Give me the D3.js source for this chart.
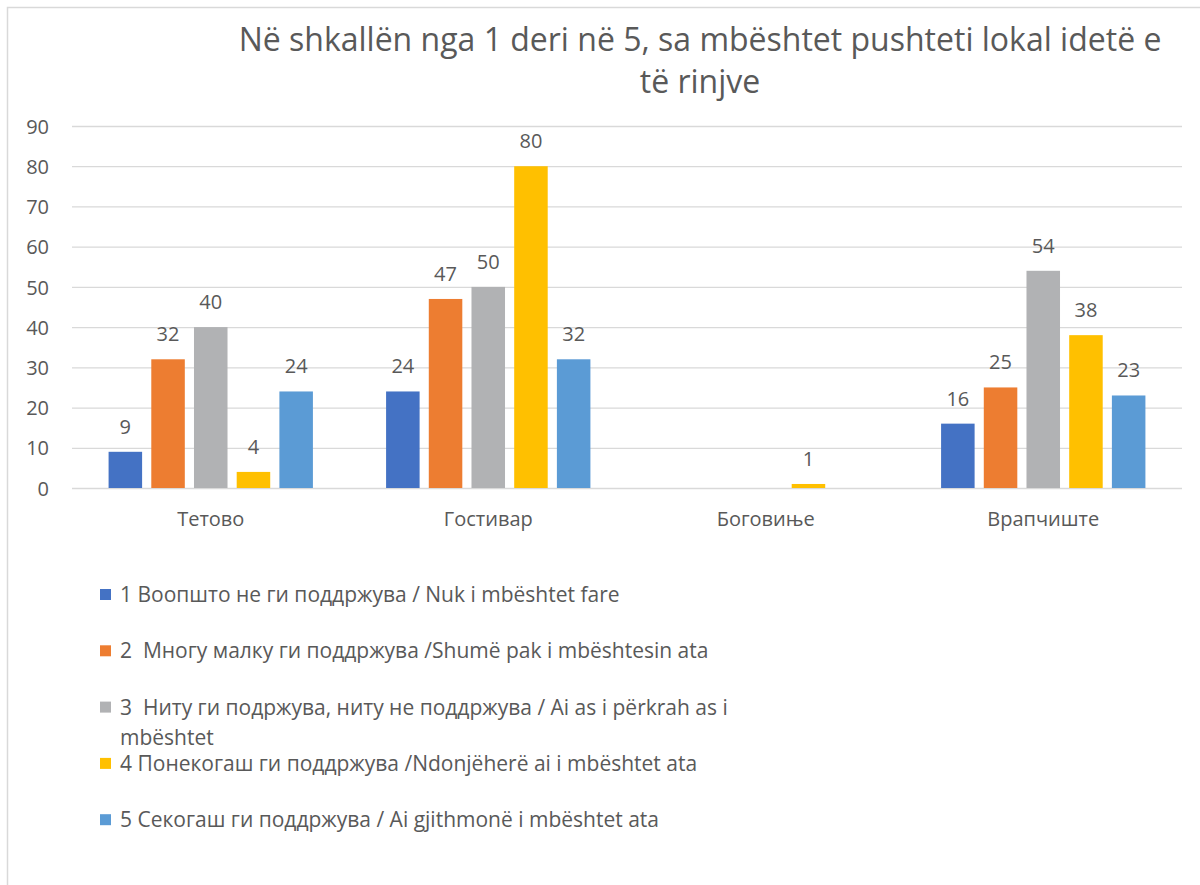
<!DOCTYPE html>
<html>
<head>
<meta charset="utf-8">
<script src="https://cdn.jsdelivr.net/npm/d3@7"></script>
<style>
  body { margin: 0; background: #fff; }
  svg text { font-family: "Open Sans", "Noto Sans", sans-serif; fill: #595959; white-space: pre; }
</style>
</head>
<body>
<div id="chart"></div>
<script>
// chart data
var titleLines = ["Në shkallën nga 1 deri në 5, sa mbështet pushteti lokal idetë e", "të rinjve"];
var categories = ["Тетово", "Гостивар", "Боговиње", "Врапчиште"];
var seriesNames = [
    "1 Воопшто не ги поддржува / Nuk i mbështet fare",
    "2  Многу малку ги поддржува /Shumë pak i mbështesin ata",
    "3  Ниту ги подржува, ниту не поддржува / Ai as i përkrah as i mbështet",
    "4 Понекогаш ги поддржува /Ndonjëherë ai i mbështet ata",
    "5 Секогаш ги поддржува / Ai gjithmonë i mbështet ata"
];
var seriesColors = ["#4472C4", "#ED7D31", "#B1B2B4", "#FFC000", "#5B9BD5"];
var values1 = [9, 24, null, 16];
var values2 = [32, 47, null, 25];
var values3 = [40, 50, null, 54];
var values4 = [4, 80, 1, 38];
var values5 = [24, 32, null, 23];
var yTicks = [0, 10, 20, 30, 40, 50, 60, 70, 80, 90];

var allSeries = [values1, values2, values3, values4, values5];

var width = 1200, height = 885;
var plot = {left: 72, right: 1182, top: 126, bottom: 488};

var svg = d3.select("#chart").append("svg")
    .attr("width", width)
    .attr("height", height);

//outer chart border (runs off the page on the right and bottom)
svg.append("rect")
    .attr("x", 7.5).attr("y", 7.5)
    .attr("width", 1220).attr("height", 900)
    .attr("fill", "none")
    .attr("stroke", "#D9D9D9")
    .attr("stroke-width", 1.5);

// title
svg.append("g").selectAll("text")
    .data(titleLines)
    .enter().append("text")
    .attr("x", 700)
    .attr("y", function (d, i) { return 51 + i * 42; })
    .attr("text-anchor", "middle")
    .style("font-size", "32px")
    .text(function (d) { return d; });

var x0 = d3.scaleBand()
    .domain(categories)
    .range([plot.left, plot.right])
    .paddingInner(0.2306)
    .paddingOuter(0.1153);

var x1 = d3.scaleBand()
    .domain(d3.range(seriesNames.length))
    .range([0, x0.bandwidth()])
    .paddingInner(0.215)
    .paddingOuter(0.1075);

var y = d3.scaleLinear()
    .domain([0, 90])
    .range([plot.bottom, plot.top]);

// gridlines
var grid = svg.append("g")
    .attr("transform", "translate(" + plot.left + ",0)")
    .call(d3.axisLeft(y).tickValues(yTicks).tickSize(-(plot.right - plot.left)).tickFormat(""));
grid.select(".domain").remove();
grid.selectAll("line").attr("stroke", "#D9D9D9").attr("stroke-width", 1.3);

// y axis labels
var yAxis = svg.append("g")
    .attr("transform", "translate(" + (plot.left - 23) + ",0)")
    .call(d3.axisLeft(y).tickValues(yTicks).tickSize(0).tickPadding(0));
yAxis.select(".domain").remove();
yAxis.selectAll("text")
    .attr("dy", "0.36em")
    .style("font-size", "20px")
    .style("font-family", "'Open Sans', sans-serif");

// category labels
var xAxis = svg.append("g")
    .attr("transform", "translate(0," + plot.bottom + ")")
    .call(d3.axisBottom(x0).tickSize(0).tickPadding(0));
xAxis.select(".domain").remove();
xAxis.selectAll("text")
    .attr("y", 38)
    .attr("dy", 0)
    .style("font-size", "20px")
    .style("font-family", "'Open Sans', sans-serif");

// bars
var groups = svg.append("g").selectAll("g")
    .data(categories)
    .enter().append("g")
    .attr("transform", function (d) { return "translate(" + x0(d) + ",0)"; });

var cells = groups.selectAll("g")
    .data(function (d, ci) {
        return allSeries.map(function (s, si) { return {series: si, value: s[ci]}; })
            .filter(function (c) { return c.value !== null; });
    })
    .enter().append("g");

cells.append("rect")
    .attr("x", function (d) { return x1(d.series); })
    .attr("y", function (d) { return y(d.value); })
    .attr("width", x1.bandwidth())
    .attr("height", function (d) { return y(0) - y(d.value); })
    .attr("fill", function (d) { return seriesColors[d.series]; });

cells.append("text")
    .attr("x", function (d) { return x1(d.series) + x1.bandwidth() / 2; })
    .attr("y", function (d) { return y(d.value) - 18; })
    .attr("text-anchor", "middle")
    .style("font-size", "20px")
    .text(function (d) { return d.value; });

// legend
var legend = svg.append("g").attr("transform", "translate(100,0)");
var legendItems = legend.selectAll("g")
    .data(seriesNames)
    .enter().append("g")
    .attr("transform", function (d, i) { return "translate(0," + (595 + i * 56.3) + ")"; });

legendItems.append("rect")
    .attr("x", 0).attr("y", -6)
    .attr("width", 11).attr("height", 11)
    .attr("fill", function (d, i) { return seriesColors[i]; });

legendItems.append("text")
    .attr("x", 20)
    .attr("y", 7)
    .style("font-size", "21px")
    .each(function (d) {
        //wrap long legend entries onto a second line
        var el = d3.select(this);
        var words = d.split(" ");
        var line = [];
        var tspan = el.append("tspan").attr("x", 20).attr("dy", 0);
        words.forEach(function (w) {
            line.push(w);
            tspan.text(line.join(" "));
            if (tspan.node().getComputedTextLength() > 640 && line.length > 1) {
                line.pop();
                tspan.text(line.join(" "));
                line = [w];
                tspan = el.append("tspan").attr("x", 20).attr("dy", 30).text(w);
            }
        });
    });
</script>
</body>
</html>
